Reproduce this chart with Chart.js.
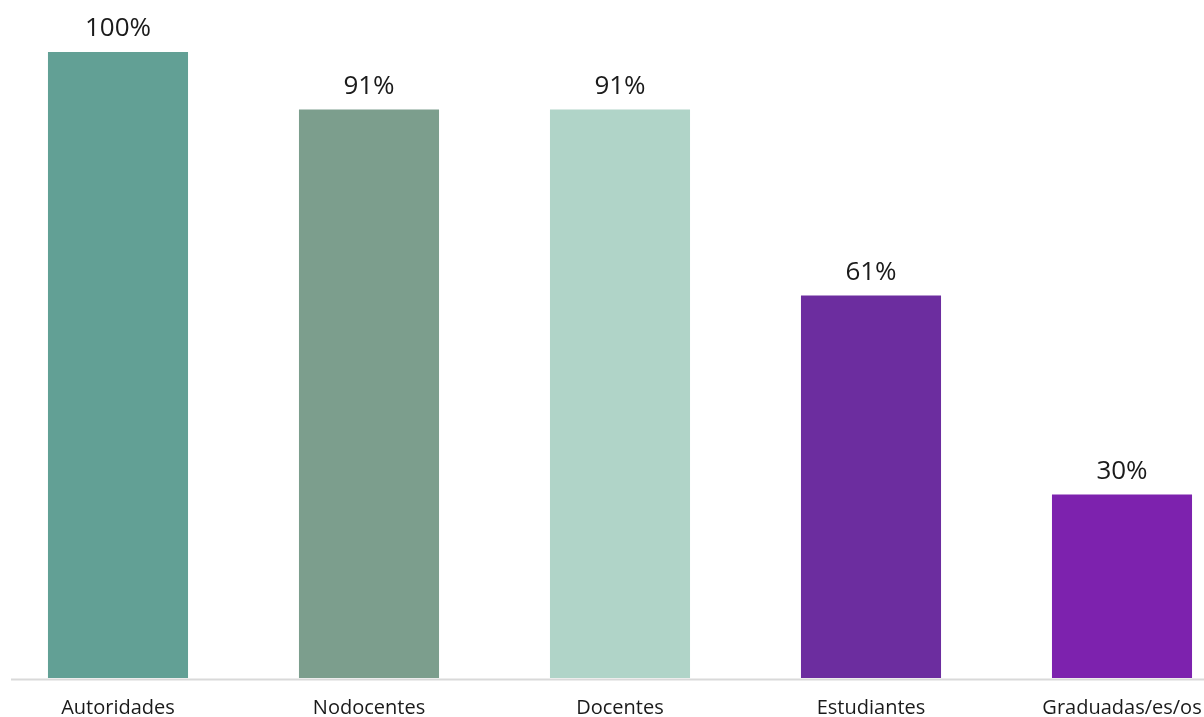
<!DOCTYPE html>
<html>
<head>
<meta charset="utf-8">
<script src="https://cdn.jsdelivr.net/npm/chart.js@4/dist/chart.umd.min.js"></script>
<style>
html,body{margin:0;padding:0;background:#fff;overflow:hidden;width:1204px;height:717px;}
#wrap{position:absolute;left:-20px;top:0;width:1280px;height:717px;}
</style>
</head>
<body>
<div id="wrap"><canvas id="c" width="1280" height="717"></canvas></div>
<script>
const categories = ["Autoridades", "Nodocentes", "Docentes", "Estudiantes", "Graduadas/es/os"];
const values = [100, 90.8, 90.8, 61.1, 29.3];
const valueLabels = ["100%", "91%", "91%", "61%", "30%"];
const barColors = ["#62a095", "#7c9e8d", "#b0d4c8", "#6c2d9f", "#7d22ae"];

const FONT = "'Open Sans', sans-serif";

const valueLabelPlugin = {
  id: 'valueLabels',
  afterDatasetsDraw(chart) {
    const ctx = chart.ctx;
    const meta = chart.getDatasetMeta(0);
    ctx.save();
    ctx.font = "26px " + FONT;
    ctx.fillStyle = "#1a1a1a";
    ctx.textAlign = "center";
    ctx.textBaseline = "alphabetic";
    meta.data.forEach((bar, i) => {
      ctx.fillText(valueLabels[i], bar.x, bar.y - 16);
    });
    ctx.restore();
  }
};

const axisLinePlugin = {
  id: 'axisLine',
  afterDatasetsDraw(chart) {
    const ctx = chart.ctx;
    const a = chart.chartArea;
    ctx.save();
    ctx.strokeStyle = "#d9d9d9";
    ctx.lineWidth = 2;
    ctx.beginPath();
    ctx.moveTo(a.left + 18.5, a.bottom + 1.5);
    ctx.lineTo(chart.width, a.bottom + 1.5);
    ctx.stroke();
    ctx.restore();
  }
};

new Chart(document.getElementById('c'), {
  type: 'bar',
  data: {
    labels: categories,
    datasets: [{
      data: values,
      backgroundColor: barColors,
      borderWidth: 0,
      categoryPercentage: 1,
      barPercentage: 0.558
    }]
  },
  options: {
    responsive: false,
    animation: false,
    layout: { padding: { top: 52, left: 12.5, right: 12.5, bottom: 0 } },
    plugins: { legend: { display: false }, tooltip: { enabled: false } },
    scales: {
      x: {
        grid: { display: false, drawTicks: false },
        border: { display: false },
        ticks: {
          color: "#1a1a1a",
          font: { family: FONT, size: 20 },
          padding: 18,
          maxRotation: 0,
          autoSkip: false
        },
        afterFit(scale) { scale.height = 39; }
      },
      y: {
        display: false,
        min: 0,
        max: 100
      }
    }
  },
  plugins: [valueLabelPlugin, axisLinePlugin]
});
</script>
</body>
</html>
